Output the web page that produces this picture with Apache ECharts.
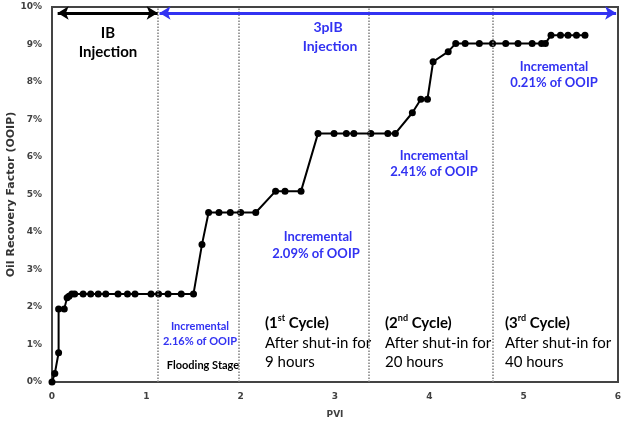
<!DOCTYPE html>
<html>
<head>
<meta charset="utf-8">
<script src="https://cdn.jsdelivr.net/npm/echarts@6/dist/echarts.min.js"></script>
<style>
html,body{margin:0;padding:0;background:#fff;}
#chart{width:629px;height:423px;}
</style>
</head>
<body>
<div id="chart"></div>
<script>
// PVI values (x) and oil recovery factor in % OOIP (y)
const pvi = [0, 0.03, 0.07, 0.07, 0.13, 0.16, 0.18, 0.21, 0.24, 0.33, 0.41, 0.49, 0.57, 0.70, 0.80, 0.88, 1.05, 1.13, 1.23, 1.37, 1.50,
  1.59, 1.66, 1.77, 1.89, 2.00, 2.16, 2.37, 2.47, 2.64, 2.82, 2.99, 3.12, 3.20, 3.38, 3.56, 3.64, 3.82, 3.91, 3.98, 4.04, 4.20,
  4.28, 4.38, 4.53, 4.67, 4.81, 4.94, 5.09, 5.19, 5.23, 5.29, 5.39, 5.47, 5.56, 5.65];
const recovery = [0, 0.23, 0.78, 1.95, 1.95, 2.25, 2.29, 2.35, 2.35, 2.35, 2.35, 2.35, 2.35, 2.35, 2.35, 2.35, 2.35, 2.35, 2.35, 2.35, 2.35,
  3.67, 4.52, 4.52, 4.52, 4.52, 4.52, 5.09, 5.09, 5.09, 6.63, 6.63, 6.63, 6.63, 6.63, 6.63, 6.63, 7.18, 7.54, 7.54, 8.54, 8.81,
  9.03, 9.03, 9.03, 9.03, 9.03, 9.03, 9.03, 9.03, 9.03, 9.25, 9.25, 9.25, 9.25, 9.25];
// stage boundaries (PVI)
const stageBounds = [1.12, 1.98, 3.36, 4.67];
// injection arrows: [startPVI, endPVI, level %]
const ibArrow = [0.06, 1.12, 9.84];
const pibArrow = [1.14, 5.98, 9.84];

const xTicks = [0, 1, 2, 3, 4, 5, 6];
const yTicks = [0, 1, 2, 3, 4, 5, 6, 7, 8, 9, 10];

const chart = echarts.init(document.getElementById('chart'), null, {renderer: 'canvas'});
const blue = '#3232F2';
const annFont = 'Lato, "Noto Sans", sans-serif';

const option = {
  animation: false,
  backgroundColor: '#fff',
  grid: {left: 52, right: 11, top: 7, bottom: 41, containLabel: false, outerBoundsMode: 'none',
    show: true, borderColor: '#444', borderWidth: 2, backgroundColor: 'transparent'},
  xAxis: {
    type: 'value', min: xTicks[0], max: xTicks[xTicks.length - 1], interval: 1,
    name: 'PVI', nameLocation: 'middle', nameGap: 28, nameMoveOverlap: false,
    nameTextStyle: {fontFamily: 'DejaVu Sans', fontWeight: 'bold', fontSize: 9, color: '#404040'},
    axisLine: {show: true, lineStyle: {color: '#444', width: 2}},
    axisTick: {show: false},
    splitLine: {show: false},
    axisLabel: {margin: 10, fontFamily: 'DejaVu Sans', fontWeight: 'bold', fontSize: 9, color: '#404040'}
  },
  yAxis: {
    type: 'value', min: yTicks[0], max: yTicks[yTicks.length - 1], interval: 1,
    name: 'Oil Recovery Factor (OOIP)', nameLocation: 'middle', nameGap: 35, nameMoveOverlap: false,
    nameTextStyle: {fontFamily: 'DejaVu Sans', fontWeight: 'bold', fontSize: 11, color: '#333'},
    axisLine: {show: true, lineStyle: {color: '#444', width: 2}},
    axisTick: {show: false},
    splitLine: {show: false},
    axisLabel: {margin: 10, formatter: '{value}%', fontFamily: 'DejaVu Sans', fontWeight: 'bold', fontSize: 9, color: '#404040'}
  },
  series: [
    {
      type: 'line', silent: true, data: [], symbol: 'none',
      markLine: {
        silent: true, symbol: 'none', label: {show: false},
        lineStyle: {type: 'dotted', color: '#7f7f7f', width: 1.5},
        data: stageBounds.map(v => ({xAxis: v}))
      }
    },
    {
      type: 'line', silent: true, data: [], symbol: 'none',
      markLine: {
        silent: true, symbol: ['arrow', 'arrow'], symbolSize: [10, 11], label: {show: false},
        data: [
          [{coord: [ibArrow[0], ibArrow[2]], lineStyle: {color: '#000', width: 3, type: 'solid'}},
           {coord: [ibArrow[1], ibArrow[2]]}],
          [{coord: [pibArrow[0], pibArrow[2]], lineStyle: {color: blue, width: 3, type: 'solid'}},
           {coord: [pibArrow[1], pibArrow[2]]}]
        ]
      }
    },
    {
      type: 'line',
      data: pvi.map((x, i) => [x, recovery[i]]),
      symbol: 'circle', symbolSize: 7,
      itemStyle: {color: '#000'},
      lineStyle: {color: '#000', width: 2}
    }
  ],
  graphic: [
    {type: 'text', x: 108, y: 33, style: {text: 'IB', font: 'bold 15px ' + annFont, fill: '#000', align: 'center', verticalAlign: 'middle'}},
    {type: 'text', x: 108, y: 52, style: {text: 'Injection', font: 'bold 15px ' + annFont, fill: '#000', align: 'center', verticalAlign: 'middle'}},
    {type: 'text', x: 328, y: 27, style: {text: '3pIB', font: 'bold 14px ' + annFont, fill: blue, align: 'center', verticalAlign: 'middle'}},
    {type: 'text', x: 330, y: 46, style: {text: 'Injection', font: 'bold 14px ' + annFont, fill: blue, align: 'center', verticalAlign: 'middle'}},

    {type: 'text', x: 554, y: 67, style: {text: 'Incremental', font: 'bold 13px ' + annFont, fill: blue, align: 'center', verticalAlign: 'middle'}},
    {type: 'text', x: 554, y: 83, style: {text: '0.21% of OOIP', font: 'bold 13px ' + annFont, fill: blue, align: 'center', verticalAlign: 'middle'}},
    {type: 'text', x: 434, y: 156, style: {text: 'Incremental', font: 'bold 13px ' + annFont, fill: blue, align: 'center', verticalAlign: 'middle'}},
    {type: 'text', x: 434, y: 172, style: {text: '2.41% of OOIP', font: 'bold 13px ' + annFont, fill: blue, align: 'center', verticalAlign: 'middle'}},
    {type: 'text', x: 318, y: 237, style: {text: 'Incremental', font: 'bold 13px ' + annFont, fill: blue, align: 'center', verticalAlign: 'middle'}},
    {type: 'text', x: 316, y: 254, style: {text: '2.09% of OOIP', font: 'bold 13px ' + annFont, fill: blue, align: 'center', verticalAlign: 'middle'}},
    {type: 'text', x: 200, y: 326, style: {text: 'Incremental', font: 'bold 11px ' + annFont, fill: blue, align: 'center', verticalAlign: 'middle'}},
    {type: 'text', x: 200, y: 341, style: {text: '2.16% of OOIP', font: 'bold 11px ' + annFont, fill: blue, align: 'center', verticalAlign: 'middle'}},
    {type: 'text', x: 203, y: 365, style: {text: 'Flooding Stage', font: 'bold 11px ' + annFont, fill: '#000', align: 'center', verticalAlign: 'middle'}},

    {type: 'text', x: 265, y: 323, style: {text: '{b|(1}{s|st}{b| Cycle)}', align: 'left', verticalAlign: 'middle',
      rich: {b: {font: 'bold 15px ' + annFont, fill: '#000', lineHeight: 18}, s: {font: 'bold 9px ' + annFont, fill: '#000', verticalAlign: 'top', lineHeight: 18}}}},
    {type: 'text', x: 265, y: 343, style: {text: 'After shut-in for', font: '15px ' + annFont, fill: '#000', align: 'left', verticalAlign: 'middle'}},
    {type: 'text', x: 265, y: 362, style: {text: '9 hours', font: '15px ' + annFont, fill: '#000', align: 'left', verticalAlign: 'middle'}},

    {type: 'text', x: 385, y: 323, style: {text: '{b|(2}{s|nd}{b| Cycle)}', align: 'left', verticalAlign: 'middle',
      rich: {b: {font: 'bold 15px ' + annFont, fill: '#000', lineHeight: 18}, s: {font: 'bold 9px ' + annFont, fill: '#000', verticalAlign: 'top', lineHeight: 18}}}},
    {type: 'text', x: 385, y: 343, style: {text: 'After shut-in for', font: '15px ' + annFont, fill: '#000', align: 'left', verticalAlign: 'middle'}},
    {type: 'text', x: 385, y: 362, style: {text: '20 hours', font: '15px ' + annFont, fill: '#000', align: 'left', verticalAlign: 'middle'}},

    {type: 'text', x: 505, y: 323, style: {text: '{b|(3}{s|rd}{b| Cycle)}', align: 'left', verticalAlign: 'middle',
      rich: {b: {font: 'bold 15px ' + annFont, fill: '#000', lineHeight: 18}, s: {font: 'bold 9px ' + annFont, fill: '#000', verticalAlign: 'top', lineHeight: 18}}}},
    {type: 'text', x: 505, y: 343, style: {text: 'After shut-in for', font: '15px ' + annFont, fill: '#000', align: 'left', verticalAlign: 'middle'}},
    {type: 'text', x: 505, y: 362, style: {text: '40 hours', font: '15px ' + annFont, fill: '#000', align: 'left', verticalAlign: 'middle'}}
  ]
};
chart.setOption(option);
</script>
</body>
</html>
